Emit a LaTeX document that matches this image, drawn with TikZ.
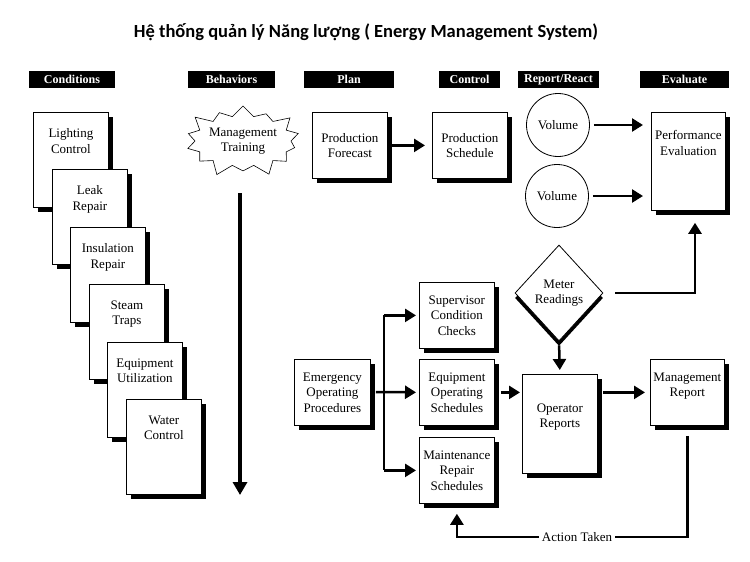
\documentclass[tikz,border=0pt]{standalone}
\usepackage{fontspec}
\setmainfont{Liberation Serif}
\newfontfamily\titlefont{Carlito}
\usetikzlibrary{arrows.meta,shadows,shapes.geometric,shapes.symbols}

\tikzset{
  head/.style = {fill=black, text=white, inner sep=0pt, minimum height=17pt,
                 font=\bfseries\fontsize{12}{14}\selectfont},
  box/.style  = {draw, fill=white, line width=0.8pt, align=center, inner sep=2pt,
                 anchor=north west, minimum width=75pt, minimum height=66pt,
                 font=\fontsize{13}{15.5}\selectfont,
                 drop shadow={shadow xshift=5pt, shadow yshift=-5pt, opacity=1, fill=black}},
  cond/.style = {box, minimum height=95pt, text depth=38pt},
  flow/.style = {line width=2.5pt, -{Triangle[length=11pt, width=13pt]}},
  link/.style = {line width=2.5pt}
}

\begin{document}
\begin{tikzpicture}[x=1pt, y=-1pt]
  \useasboundingbox (0,0) rectangle (750,562);
  \node[font=\titlefont\bfseries\fontsize{18.5}{22}\selectfont] (title) at (366,32)
    {Hệ thống quản lý Năng lượng ( Energy Management System)};

  % column heads
  \node[head, minimum width=86pt] (hcond) at (72,79.5) {Conditions};
  \node[head, minimum width=87pt] (hbeh)  at (231.5,79.5) {Behaviors};
  \node[head, minimum width=90pt] (hplan) at (349,79.5) {Plan};
  \node[head, minimum width=61pt] (hctrl) at (469.5,79.5) {Control};
  \node[head, minimum width=81pt] (hrep)  at (558.5,79.5) {Report/React};
  \node[head, minimum width=89pt] (heval) at (684.5,79.5) {Evaluate};

  % conditions
  \node[cond] (light)  at (33,112)  {Lighting\\Control};
  \node[cond] (leak)   at (52,169)  {Leak\\Repair};
  \node[cond] (insul)  at (70,227)  {Insulation\\Repair};
  \node[cond] (steam)  at (89,284)  {Steam\\Traps};
  \node[cond] (equip)  at (107,342) {Equipment\\Utilization};
  \node[cond] (water)  at (126,399) {Water\\Control};

  % behaviors
  \node[starburst, draw, line width=0.6pt, starburst points=14,
        starburst point height=14pt, minimum width=116pt, minimum height=78pt,
        inner sep=0pt, align=center, font=\fontsize{13}{15.5}\selectfont]
        (train) at (243,141) {Management\\Training};
  \coordinate (tstart) at (240,193);
  \coordinate (tend) at (240,495);
  \draw[line width=4pt, -{Triangle[length=13pt, width=14pt]}] (tstart) -- (tend);

  % plan, control, react, evaluate
  \node[box] (fcast) at (312,112) {Production\\Forecast};
  \node[box] (sched) at (432,112) {Production\\Schedule};
  \node[draw, circle, line width=0.8pt, minimum size=63pt, inner sep=0pt,
        font=\fontsize{13}{15.5}\selectfont] (vol1) at (558,125) {Volume};
  \node[draw, circle, line width=0.8pt, minimum size=63pt, inner sep=0pt,
        font=\fontsize{13}{15.5}\selectfont] (vol2) at (557,196) {Volume};
  \node[box, minimum width=74pt, minimum height=98pt, text depth=37pt]
        (perf) at (651,112) {Performance\\Evaluation};
  \node[diamond, draw, fill=white, line width=0.8pt, minimum width=88pt,
        minimum height=96pt, inner sep=0pt, align=center,
        font=\fontsize{13}{15.5}\selectfont,
        drop shadow={shadow xshift=0pt, shadow yshift=-5pt, opacity=1, fill=black}]
        (meter) at (559,293) {Meter\\Readings};

  \node[box, minimum width=76pt] (emerg) at (294,359) {Emergency\\Operating\\Procedures};
  \node[box] (super) at (419,282) {Supervisor\\Condition\\Checks};
  \node[box] (eqops) at (419,359) {Equipment\\Operating\\Schedules};
  \node[box] (maint) at (419,437) {Maintenance\\Repair\\Schedules};
  \node[box, minimum height=99pt, text depth=16pt] (oper) at (522,374) {Operator\\Reports};
  \node[box, minimum width=74pt, text depth=15pt] (mgmt) at (650,359) {Management\\Report};
  \node[font=\fontsize{13}{15.5}\selectfont, inner sep=3pt] (action) at (577,537) {Action Taken};

  % connectors
  \draw[flow, shorten <=4pt, shorten >=7pt] (fcast.east) -- (sched.west);
  \draw[flow, shorten <=4pt, shorten >=8pt] (vol1.east) -- (vol1.east -| perf.west);
  \draw[flow, shorten <=4pt, shorten >=8pt] (vol2.east) -- (vol2.east -| perf.west);
  \draw[flow, shorten <=12pt, shorten >=12pt] (meter.east) -| (perf.south -| 695,0);
  \draw[flow, shorten <=4pt, shorten >=4pt] (meter.south) -- (oper.north);
  \coordinate (fork) at (384,392);
  \draw[link, shorten <=5pt] (emerg.east) -- (fork);
  \draw[link] (fork |- super.west) -- (fork |- maint.west);
  \draw[flow, shorten >=3pt] (fork |- super.west) -- (super.west);
  \draw[flow, shorten >=3pt] (fork) -- (eqops.west);
  \draw[flow, shorten >=3pt] (fork |- maint.west) -- (maint.west);
  \draw[flow, shorten <=6pt, shorten >=2pt] (eqops.east) -- (eqops.east -| oper.west);
  \draw[flow, shorten <=6pt, shorten >=5pt] (oper.west |- mgmt.west) ++(75,0) -- (mgmt.west);
  \draw[link, shorten <=10pt] (mgmt.south) |- (action.east);
  \draw[flow, shorten >=10pt] (action.west) -| (maint.south);
\end{tikzpicture}
\end{document}
